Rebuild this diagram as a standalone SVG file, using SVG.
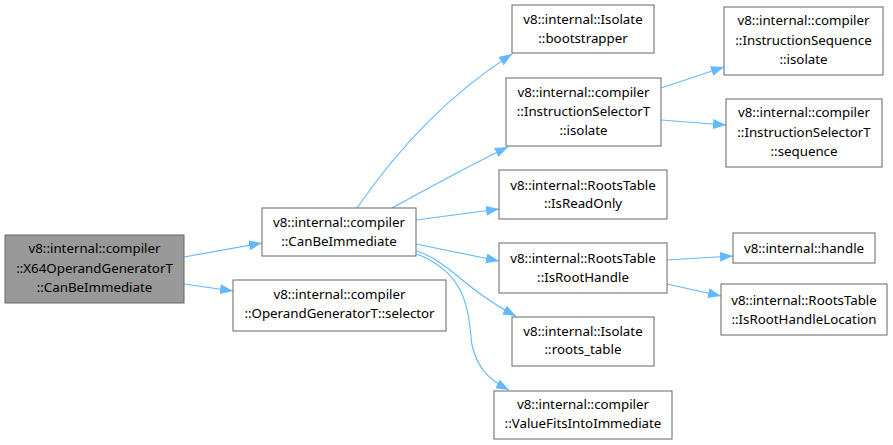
<svg xmlns="http://www.w3.org/2000/svg" width="893" height="445" viewBox="0 0 893 445">
<style>
.n rect{fill:#fff;stroke:#666;stroke-width:1}
.n.cur rect{fill:#999}
.n text{font-family:"Noto Sans","Open Sans",sans-serif;font-size:13.3px;fill:#000;text-anchor:middle}
.e path{fill:none;stroke:#63b8ff;stroke-width:1.1;marker-end:url(#ah)}
</style>
<defs>
<marker id="ah" markerUnits="userSpaceOnUse" markerWidth="14" markerHeight="11" refX="13" refY="5" orient="auto">
<path d="M0,0 L13,5 L0,10 z" fill="#63b8ff"/>
</marker>
</defs>
<rect width="893" height="445" fill="#fff"/>
<g id="edges" class="e">
<path d="M184,257 L262,243"/>
<path d="M184,284 L233,291"/>
<path d="M357,208 C390,160 440,100 512,54"/>
<path d="M392,208 C425,190 470,165 508,147"/>
<path d="M416,220 L499,209"/>
<path d="M416,244 L499,261"/>
<path d="M417,251 C450,262 465,290 516,316"/>
<path d="M417,254 C470,275 468,315 472,345 C478,370 490,380 509,390"/>
<path d="M661,88 L724,67"/>
<path d="M661,120 L726,125"/>
<path d="M667,260 L733,256"/>
<path d="M667,284 L721,296"/>
</g>
<g id="nA" class="n cur"><rect x="5" y="235" width="179" height="68"/><text x="94.5" y="253">v8::internal::compiler</text><text x="94.5" y="273">::X64OperandGeneratorT</text><text x="94.5" y="292">::CanBeImmediate</text></g>
<g id="nB" class="n"><rect x="262" y="208" width="154" height="48"/><text x="339" y="227">v8::internal::compiler</text><text x="339" y="246">::CanBeImmediate</text></g>
<g id="nC" class="n"><rect x="233" y="280" width="213" height="51"/><text x="339.5" y="299">v8::internal::compiler</text><text x="339.5" y="318">::OperandGeneratorT::selector</text></g>
<g id="nD" class="n"><rect x="512" y="5" width="142" height="48"/><text x="583" y="24">v8::internal::Isolate</text><text x="583" y="43">::bootstrapper</text></g>
<g id="nE" class="n"><rect x="506" y="78" width="155" height="68"/><text x="583.5" y="97">v8::internal::compiler</text><text x="583.5" y="116">::InstructionSelectorT</text><text x="583.5" y="135">::isolate</text></g>
<g id="nF" class="n"><rect x="724" y="7" width="159" height="68"/><text x="803.5" y="25">v8::internal::compiler</text><text x="803.5" y="45">::InstructionSequence</text><text x="803.5" y="64">::isolate</text></g>
<g id="nG" class="n"><rect x="726" y="99" width="156" height="68"/><text x="804" y="117">v8::internal::compiler</text><text x="804" y="137">::InstructionSelectorT</text><text x="804" y="156">::sequence</text></g>
<g id="nH" class="n"><rect x="499" y="170" width="168" height="49"/><text x="583" y="190">v8::internal::RootsTable</text><text x="583" y="208">::IsReadOnly</text></g>
<g id="nI" class="n"><rect x="499" y="243" width="168" height="50"/><text x="583" y="263">v8::internal::RootsTable</text><text x="583" y="282">::IsRootHandle</text></g>
<g id="nJ" class="n"><rect x="733" y="233" width="142" height="30"/><text x="804" y="253">v8::internal::handle</text></g>
<g id="nK" class="n"><rect x="721" y="284" width="166" height="51"/><text x="804" y="305">v8::internal::RootsTable</text><text x="804" y="324">::IsRootHandleLocation</text></g>
<g id="nL" class="n"><rect x="512" y="317" width="142" height="49"/><text x="583" y="336">v8::internal::Isolate</text><text x="583" y="354">::roots_table</text></g>
<g id="nM" class="n"><rect x="494" y="391" width="178" height="48"/><text x="583" y="409">v8::internal::compiler</text><text x="583" y="428">::ValueFitsIntoImmediate</text></g>
</svg>
